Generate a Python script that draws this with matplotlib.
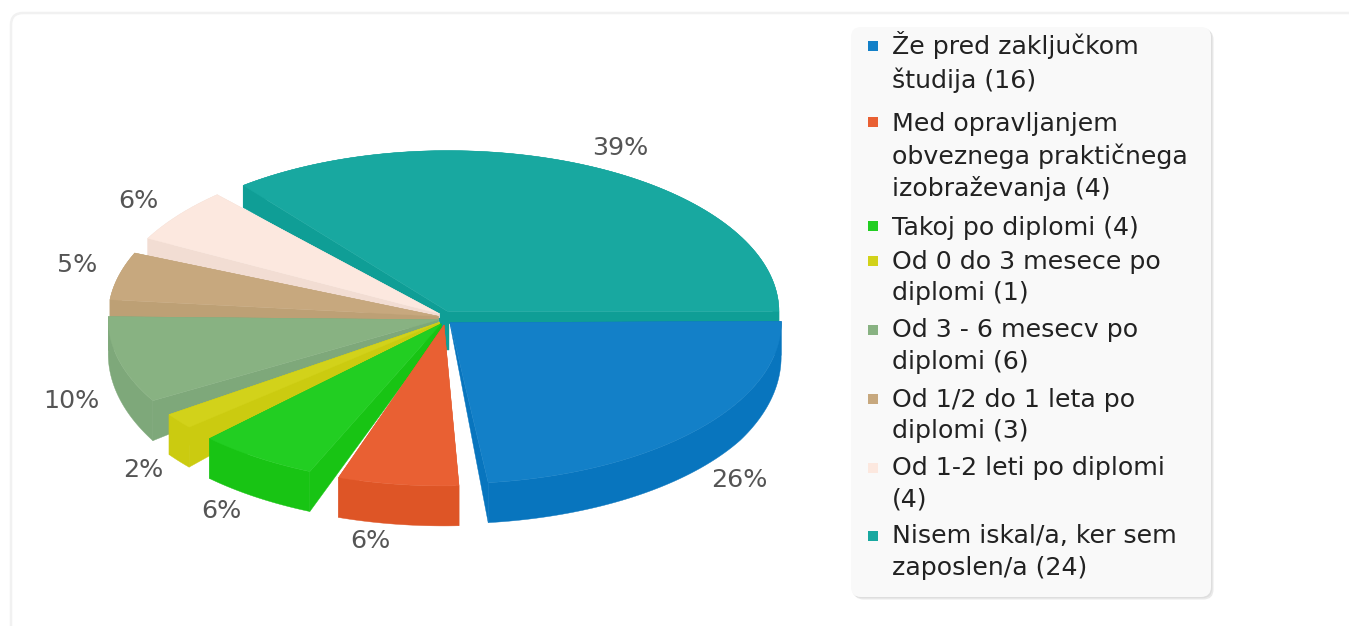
import numpy as np
import matplotlib
matplotlib.use("Agg")
import matplotlib.pyplot as plt
from matplotlib.patches import Polygon, FancyBboxPatch, Rectangle

# ---- data ----
labels = ["Že pred zaključkom\nštudija (16)",
          "Med opravljanjem\nobveznega praktičnega\nizobraževanja (4)",
          "Takoj po diplomi (4)",
          "Od 0 do 3 mesece po\ndiplomi (1)",
          "Od 3 - 6 mesecv po\ndiplomi (6)",
          "Od 1/2 do 1 leta po\ndiplomi (3)",
          "Od 1-2 leti po diplomi\n(4)",
          "Nisem iskal/a, ker sem\nzaposlen/a (24)"]
values = [16, 4, 4, 1, 6, 3, 4, 24]

# ---- style ----
top_colors = ["#1380C8", "#E96033", "#22CE22", "#D2D21A", "#88B282", "#C7A87E", "#FCE8DF", "#18A8A0"]
wall_colors = ["#0875BE", "#DE5526", "#18C414", "#CBCB10", "#7EA87A", "#BDA075", "#F2DDD3", "#0F9E96"]
draw_order = [7, 6, 5, 4, 3, 2, 1, 0]
label_xy = [(739, 480), (370, 541), (221, 511), (143, 470), (71, 401), (77, 265), (138, 201), (620, 148)]
legend_y = [62, 156.5, 227.5, 277.5, 346, 415.5, 484, 552]
swatch_y = [46, 122, 226, 261, 330, 399, 468, 536]

CX, CY, RX_RIGHT, RX_LEFT, RY, EXPLODE = 445, 318, 331, 330, 161, 7
start_trim = [-0.5, 2.4, 2.4, 2.4, 2.4, 2.4, 2.4, 1.6]
end_trim = [1.6, 2.4, 2.4, 2.4, 2.4, 2.4, 2.4, 0]
apex_depth = [2, 3, 8, 6, 6, 6, 4, 12]
# the renderer's perspective shifts the drawn angle away from the true share
true_angle = [0, 92.9, 116.1, 139.4, 145.2, 180, 197.4, 220.6, 360]
drawn_angle = [0, 85, 111, 137, 147.5, 183.5, 205.5, 230, 360]


def depth(y):
    return np.interp(y, [184, 320, 400, 485], [22, 34, 40, 40])


fig = plt.figure(figsize=(13.49, 6.26), dpi=100, facecolor="white")
ax = fig.add_axes([0, 0, 1, 1])
ax.set_xlim(0, 1349)
ax.set_ylim(626, 0)
ax.axis("off")

# card
ax.add_patch(FancyBboxPatch((11, 13), 1500, 800, boxstyle="round,pad=0,rounding_size=12",
                            fc="white", ec="#F1F1F1", lw=1.8, zorder=0))
# legend box with soft shadow
for off, col in [(2.5, "#EAEAEA"), (1.2, "#DEDEDE")]:
    ax.add_patch(FancyBboxPatch((851 + off, 27 + off), 360, 570, boxstyle="round,pad=0,rounding_size=10",
                                fc=col, ec="none", zorder=1))
ax.add_patch(FancyBboxPatch((851, 27), 360, 570, boxstyle="round,pad=0,rounding_size=10",
                            fc="#F9F9F9", ec="none", zorder=2))

# pie
total = sum(values)
shares = np.cumsum([0] + values) / total * 360
edges = np.interp(shares, true_angle, drawn_angle)
z = 3
for i in draw_order:
    t0, t1 = edges[i], edges[i + 1]
    mid = np.radians((t0 + t1) / 2)
    ax_x = CX + EXPLODE * np.cos(mid)
    ax_y = CY + EXPLODE * np.sin(mid)
    t = np.radians(np.linspace(t0 + start_trim[i], t1 - end_trim[i], 90))
    c = np.cos(t)
    xs = ax_x + np.where(c > 0, RX_RIGHT, RX_LEFT) * c
    ys = ax_y + RY * np.sin(t)
    yb = ys + depth(ys)
    ayb = ax_y + apex_depth[i]
    wall = wall_colors[i]
    if i == len(values) - 1:
        # short centre post of the rearmost slice, seen through the gap between slices
        ax.add_patch(Polygon([(ax_x - 11, ax_y), (ax_x + 1, ax_y), (ax_x + 1, ax_y + 38), (ax_x - 2, ax_y + 38)],
                             closed=True, fc=wall, ec=wall, lw=0.3, zorder=z))
    for k in (0, -1):
        ax.add_patch(Polygon([(ax_x, ax_y), (xs[k], ys[k]), (xs[k], yb[k]), (ax_x, ayb)],
                             closed=True, fc=wall, ec=wall, lw=0.3, zorder=z))
    ax.add_patch(Polygon(np.r_[np.c_[xs, ys], np.c_[xs, yb][::-1]], closed=True,
                         fc=wall, ec=wall, lw=0.3, zorder=z))
    ax.add_patch(Polygon(np.r_[[(ax_x, ax_y)], np.c_[xs, ys]], closed=True,
                         fc=top_colors[i], ec=top_colors[i], lw=0.3, zorder=z + 0.5))
    z += 1

# percent labels
for v, (x, y) in zip(values, label_xy):
    ax.text(x, y, f"{round(v / total * 100)}%", ha="center", va="center",
            fontsize=18.3, color="#555555", family="DejaVu Sans", zorder=30)

# legend
for lab, col, ly, sy in zip(labels, top_colors, legend_y, swatch_y):
    ax.add_patch(Rectangle((868, sy - 5), 10, 10, fc=col, ec="none", zorder=30))
    ax.text(892, ly, lab, ha="left", va="center", fontsize=18.2, linespacing=1.38,
            color="#222222", family="DejaVu Sans", zorder=30)

fig.savefig("out.png", dpi=100)
